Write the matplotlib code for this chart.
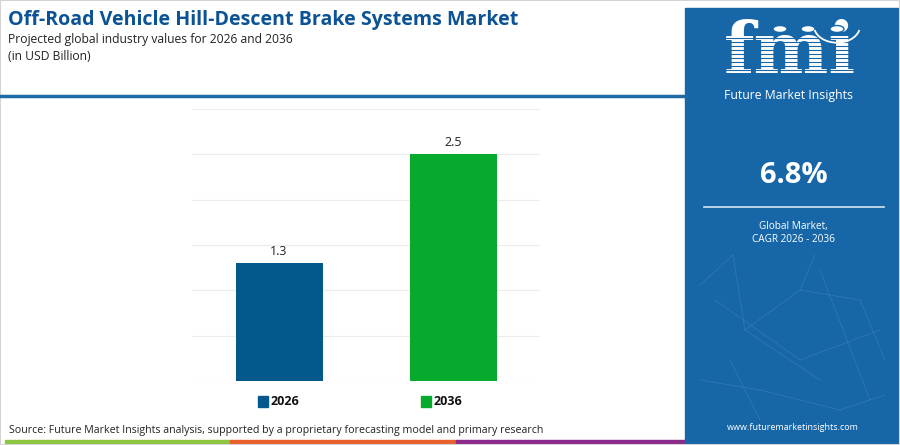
import matplotlib.pyplot as plt
from matplotlib.patches import Rectangle, Circle, Arc
from matplotlib.lines import Line2D

years = ["2026", "2036"]
values = [1.3, 2.5]
bar_colors = ["#03588c", "#08aa2e"]
cagr = "6.8%"

W, H = 900, 445
fig = plt.figure(figsize=(9, 4.45), dpi=100)
fig.patch.set_facecolor("white")

def fx(px):
    return px / W

def fy(py):
    return 1 - py / H

# header
fig.text(fx(8), fy(20), "Off-Road Vehicle Hill-Descent Brake Systems Market",
         fontsize=14.1, fontweight="bold", color="#0b5394", family="Open Sans", va="center")
fig.text(fx(8), fy(40), "Projected global industry values for 2026 and 2036",
         fontsize=8.7, color="#222222", family="Open Sans", va="center")
fig.text(fx(8), fy(57), "(in USD Billion)",
         fontsize=8.7, color="#222222", family="Open Sans", va="center")
fig.add_artist(Line2D([0, fx(686)], [fy(96), fy(96)], color="#1f6aa5", lw=2.5))

# chart
ax = fig.add_axes([fx(192), fy(381), fx(540) - fx(192), fy(109) - fy(381)])
x = range(len(years))
bars = ax.bar(x, values, width=0.5, color=bar_colors, zorder=3)
for b, v in zip(bars, values):
    ax.text(b.get_x() + b.get_width() / 2, v + 0.06, f"{v}", ha="center", va="bottom",
            fontsize=9, color="#222222", family="Open Sans")
ax.set_xlim(-0.5, 1.5)
ax.set_ylim(0, 3.0)
ax.set_yticks([0, 0.5, 1.0, 1.5, 2.0, 2.5, 3.0])
ax.grid(axis="y", color="#ececec", lw=0.8, zorder=0)
ax.tick_params(left=False, bottom=False, labelleft=False, labelbottom=False)
for s in ax.spines.values():
    s.set_visible(False)

# legend
for px, lab, c in [(258, years[0], bar_colors[0]), (421, years[1], bar_colors[1])]:
    fig.add_artist(Rectangle((fx(px), fy(407)), fx(10), fy(396) - fy(407), color=c))
    fig.text(fx(px + 13), fy(401.5), lab, fontsize=9, fontweight="bold",
             color="#111111", family="Open Sans", va="center")

fig.text(fx(9), fy(430), "Source: Future Market Insights analysis, supported by a proprietary forecasting model and primary research",
         fontsize=7.7, color="#222222", family="Open Sans", va="center")

# bottom color strip
for x0, x1, c in [(5, 230, "#8dc63f"), (230, 456, "#e8612c"), (456, 686, "#8b2a8b")]:
    fig.add_artist(Rectangle((fx(x0), 0), fx(x1 - x0), fy(440), color=c))

# right panel
panel = "#1767a8"
fig.add_artist(Rectangle((fx(685), 0), fx(W - 685), fy(8), color=panel))

# faint network decoration
net = [((733, 255), (745, 330)), ((745, 330), (800, 290)), ((800, 290), (860, 300)),
       ((715, 300), (800, 360)), ((800, 360), (880, 330)), ((760, 390), (840, 410)),
       ((730, 360), (760, 420)), ((820, 270), (870, 400)), ((745, 330), (820, 380)),
       ((700, 285), (733, 255)), ((800, 290), (815, 255)), ((860, 300), (885, 360)),
       ((700, 380), (760, 390)), ((840, 410), (885, 395))]
for (x0, y0), (x1, y1) in net:
    fig.add_artist(Line2D([fx(x0), fx(x1)], [fy(y0), fy(y1)], color="white", lw=0.6, alpha=0.1))

# logo
fig.text(fx(790), fy(73), "fmi", fontsize=51, fontweight="bold", family="DejaVu Serif",
         color="white", ha="center", va="baseline")
for cx in (780, 808, 837):
    fig.add_artist(Circle((fx(cx), fy(29)), 0.0078, transform=fig.transFigure,
                          color="white", ec=panel, lw=1, zorder=5))
fig.add_artist(Arc((fx(837), fy(26)), fx(46), 0.075, theta1=200, theta2=340,
                   transform=fig.transFigure, color="white", lw=1.3, zorder=5))
for yy in range(38, 75, 4):
    fig.add_artist(Line2D([fx(718), fx(862)], [fy(yy), fy(yy)], color=panel, lw=0.8, zorder=4))
fig.text(fx(788), fy(96), "Future Market Insights", fontsize=8.8, color="white",
         family="Open Sans", ha="center", va="center")

fig.text(fx(794), fy(175), cagr, fontsize=21, fontweight="bold", color="white",
         family="Open Sans", ha="center", va="center")
fig.add_artist(Line2D([fx(704), fx(884)], [fy(207), fy(207)], color="#d6e4f0", lw=1.2))
fig.text(fx(793), fy(226), "Global Market,", fontsize=7.2, color="white",
         family="Open Sans", ha="center", va="center")
fig.text(fx(793), fy(239), "CAGR 2026 - 2036", fontsize=7.2, color="white",
         family="Open Sans", ha="center", va="center")
fig.text(fx(793), fy(428), "www.futuremarketinsights.com", fontsize=6.5, color="white",
         family="Open Sans", ha="center", va="center")

# outer frame
fig.add_artist(Rectangle((0, 0), 1, 1, fill=False, ec="#d4d4d4", lw=1.5))

fig.savefig("out.png", dpi=100)
